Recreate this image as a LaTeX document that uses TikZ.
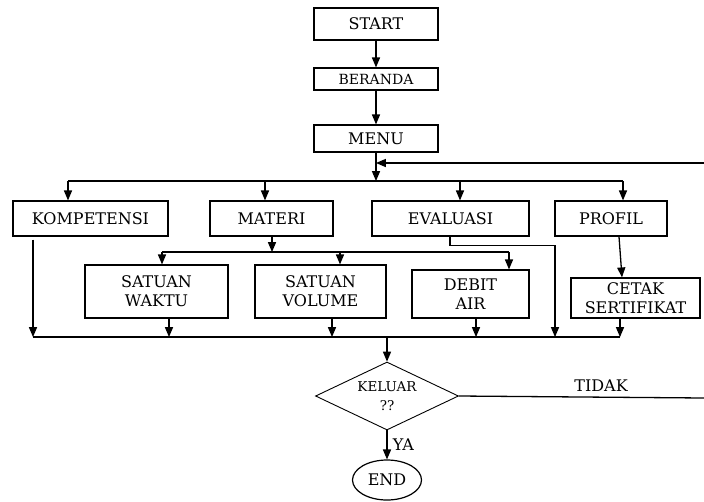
\documentclass[tikz,border=0pt]{standalone}
\usepackage{fontspec}
\setmainfont{DejaVu Serif}
\usetikzlibrary{shapes}
\usetikzlibrary{arrows}
\tikzstyle{proc} = [rectangle,fill=white,draw=black,line width=1.3pt,
align=center,inner sep=1pt,font=\fontsize{16}{19}\selectfont]
\tikzstyle{small} = [proc,font=\fontsize{14}{16}\selectfont]
\tikzstyle{decision} = [diamond,draw=black,line width=0.9pt,align=center,
inner sep=0pt,shape aspect=2.1,minimum width=143pt,minimum height=68pt,
font=\fontsize{13.5}{19}\selectfont]
\tikzstyle{terminal} = [ellipse,draw=black,line width=1.2pt,inner sep=0pt,
minimum width=69pt,minimum height=40pt,font=\fontsize{16}{19}\selectfont]
\tikzstyle{flow} = [->,>={triangle 45},line width=1.3pt]
\tikzstyle{line} = [line width=1.3pt]
\tikzstyle{caption} = [font=\fontsize{16}{19}\selectfont]

\begin{document}
\begin{tikzpicture}[x=1pt,y=-1pt]
  \useasboundingbox (0,0) rectangle (704,501);
  % main column
  \node[proc,minimum width=124pt,minimum height=32pt](start) at (376,24) {START};
  \node[small,minimum width=124pt,minimum height=22pt](beranda) at (376,79) {BERANDA};
  \node[proc,minimum width=124pt,minimum height=27pt](menu) at (376,138.5) {MENU};
  % menu items
  \node[proc,minimum width=155pt,minimum height=35pt](komp) at (90.5,218.5) {KOMPETENSI};
  \node[proc,minimum width=123pt,minimum height=35pt](materi) at (271.5,218.5) {MATERI};
  \node[proc,minimum width=157pt,minimum height=35pt](evaluasi) at (450.5,218.5) {EVALUASI};
  \node[proc,minimum width=112pt,minimum height=35pt](profil) at (611,218.5) {PROFIL};
  % sub items
  \node[proc,minimum width=143pt,minimum height=53pt](waktu) at (156.5,291.5) {SATUAN\\WAKTU};
  \node[proc,minimum width=131pt,minimum height=53pt](volume) at (320.5,291.5) {SATUAN\\VOLUME};
  \node[proc,minimum width=117pt,minimum height=48pt](debit) at (470.5,294) {DEBIT\\AIR};
  \node[proc,minimum width=129pt,minimum height=40pt](cetak) at (635.5,298) {CETAK\\SERTIFIKAT};
  % exit
  \node[decision](keluar) at (387,396) {KELUAR\\??};
  \node[terminal](end) at (387,480) {END};

  \coordinate (bus1) at (376,181);
  \coordinate (bus2) at (272,252);
  \coordinate (bus3) at (386,337);
  \coordinate (back) at (704,163);
  \coordinate (tidak) at (704,398);

  \draw[flow] (start) -- (beranda);
  \draw[flow] (beranda) -- (menu);
  \draw[flow] (menu) -- (bus1);
  \draw[flow] (back) -- (menu.south |- back);
  \draw[line] ([xshift=-22.5]komp.north |- bus1) -- ([xshift=12]profil.north |- bus1);
  \foreach \n/\s in {komp/-22.5,materi/-6.5,evaluasi/9.5,profil/12}
    \draw[flow] ([xshift=\s]\n.north |- bus1) -- ([xshift=\s]\n.north);

  % materi branch
  \draw[flow] ([xshift=0.5]materi.south) -- (bus2);
  \draw[line] ([xshift=5.5]waktu.north |- bus2) -- ([xshift=38.5]debit.north |- bus2);
  \foreach \n/\s in {waktu/5.5,volume/19.5,debit/38.5}
    \draw[flow] ([xshift=\s]\n.north |- bus2) -- ([xshift=\s]\n.north);
  \draw[flow] ([xshift=8]profil.south) -- ([xshift=-13.5]cetak.north);

  % back to one line
  \draw[line] ([xshift=-57.5]komp.south |- bus3) -- ([xshift=-15.5]cetak.south |- bus3);
  \draw[flow] ([xshift=-57.5,yshift=-3]komp.south) -- ([xshift=-57.5]komp.south |- bus3);
  \foreach \n/\s in {waktu/12.5,volume/11.5,debit/5.5,cetak/-15.5}
    \draw[flow] ([xshift=\s]\n.south) -- ([xshift=\s]\n.south |- bus3);
  \draw[flow] ([xshift=-0.5]evaluasi.south) |- ([yshift=-9]evaluasi.south -| 555,0)
    -- (555,337);
  \draw[flow] (keluar.north |- bus3) -- (keluar.north);

  \draw[flow] (keluar) -- node[caption,right=2pt]{YA} (end);
  \draw[line] (keluar.east) -- node[caption,above=2pt,pos=0.58]{TIDAK} (tidak);
\end{tikzpicture}
\end{document}
